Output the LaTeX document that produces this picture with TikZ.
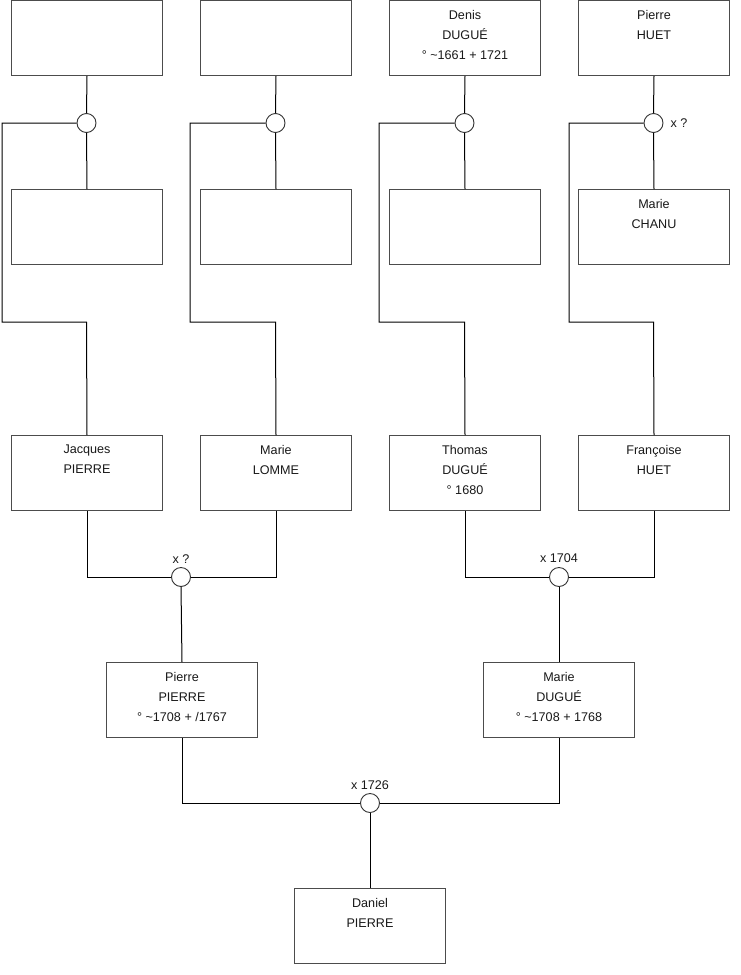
\documentclass[tikz,border=0pt]{standalone}
\usepackage{fontspec}
\setmainfont{Liberation Sans}
\begin{document}
\begin{tikzpicture}[x=1pt,y=-1pt,
  person/.style={draw=black!70,line width=1pt,fill=white,minimum width=151pt,minimum height=75pt,inner sep=0pt,anchor=north west},
  txt/.style={font=\fontsize{12.6}{20}\selectfont,align=center,anchor=north,inner sep=0pt,text=black!90},
  union/.style={circle,draw=black!80,line width=0.9pt,fill=white,minimum size=19pt,inner sep=0pt},
  lnk/.style={draw=black,line width=1pt},
  lbl/.style={font=\fontsize{12.6}{14}\selectfont,inner sep=0pt,text=black!90}]
\useasboundingbox (0,0) rectangle (740,975);
% top row
\node[person] (a1) at (11,0) {};
\node[person] (a2) at (200,0) {};
\node[person] (a3) at (389,0) {};
\node[person] (a4) at (578,0) {};
% second row
\node[person] (b1) at (11,189) {};
\node[person] (b2) at (200,189) {};
\node[person] (b3) at (389,189) {};
\node[person] (b4) at (578,189) {};
% third row
\node[person] (c1) at (11,435) {};
\node[person] (c2) at (200,435) {};
\node[person] (c3) at (389,435) {};
\node[person] (c4) at (578,435) {};
% fourth row
\node[person] (d1) at (106,662) {};
\node[person] (d2) at (483,662) {};
% bottom
\node[person] (e1) at (294,888) {};
% unions
\node[union] (u1) at (86.5,123) {};
\node[union] (u2) at (275.5,123) {};
\node[union] (u3) at (464.5,123) {};
\node[union] (u4) at (653.5,123) {};
\node[union] (v1) at (181,577) {};
\node[union] (v2) at (559,577) {};
\node[union] (w1) at (370,803) {};
% coordinates for side lines
\coordinate (p1a) at (2,123);  \coordinate (p1b) at (2,322);  \coordinate (p1c) at (86.5,322);
\coordinate (p2a) at (190,123); \coordinate (p2b) at (190,322); \coordinate (p2c) at (275.5,322);
\coordinate (p3a) at (379,123); \coordinate (p3b) at (379,322); \coordinate (p3c) at (464.5,322);
\coordinate (p4a) at (569,123); \coordinate (p4b) at (569,322); \coordinate (p4c) at (653.5,322);
% connectors top
\foreach \a/\u/\b in {a1/u1/b1,a2/u2/b2,a3/u3/b3,a4/u4/b4}{
  \draw[lnk] (\a.south) -- (\u.north);
  \draw[lnk] (\u.south) -- (\b.north);
}
\draw[lnk] (u1.west) -- (p1a) -- (p1b) -- (p1c) -- (c1.north);
\draw[lnk] (u2.west) -- (p2a) -- (p2b) -- (p2c) -- (c2.north);
\draw[lnk] (u3.west) -- (p3a) -- (p3b) -- (p3c) -- (c3.north);
\draw[lnk] (u4.west) -- (p4a) -- (p4b) -- (p4c) -- (c4.north);
% marriages
\draw[lnk] (c1.south) |- (v1.west);
\draw[lnk] (c2.south) |- (v1.east);
\draw[lnk] (v1.south) -- (d1.north);
\draw[lnk] (c3.south) |- (v2.west);
\draw[lnk] (c4.south) |- (v2.east);
\draw[lnk] (v2.south) -- (d2.north);
\draw[lnk] (d1.south) |- (w1.west);
\draw[lnk] (d2.south) |- (w1.east);
\draw[lnk] (w1.south) -- (e1.north);
% texts
\node[txt] (t3) at ([yshift=-9.9]a3.north) {Denis\\DUGUÉ\\° \textasciitilde1661 + 1721};
\node[txt] (t4) at ([yshift=-9.9]a4.north) {Pierre\\HUET};
\node[txt] (t8) at ([yshift=-9.9]b4.north) {Marie\\CHANU};
\node[txt] (t9) at ([yshift=-9.9]c1.north) {Jacques\\PIERRE};
\node[txt] (t10) at ([yshift=-9.9]c2.north) {Marie\\LOMME};
\node[txt] (t11) at ([yshift=-9.9]c3.north) {Thomas\\DUGUÉ\\° 1680};
\node[txt] (t12) at ([yshift=-9.9]c4.north) {Françoise\\HUET};
\node[txt] (t13) at ([yshift=-9.9]d1.north) {Pierre\\PIERRE\\° \textasciitilde1708 + /1767};
\node[txt] (t14) at ([yshift=-9.9]d2.north) {Marie\\DUGUÉ\\° \textasciitilde1708 + 1768};
\node[txt] (t15) at ([yshift=-9.9]e1.north) {Daniel\\PIERRE};
% union labels
\node[lbl,anchor=west] (l4) at ([xshift=7]u4.east) {x ?};
\node[lbl] (l5) at (181,559) {x ?};
\node[lbl] (l6) at (559,558) {x 1704};
\node[lbl] (l7) at (370,785) {x 1726};
\end{tikzpicture}
\end{document}
